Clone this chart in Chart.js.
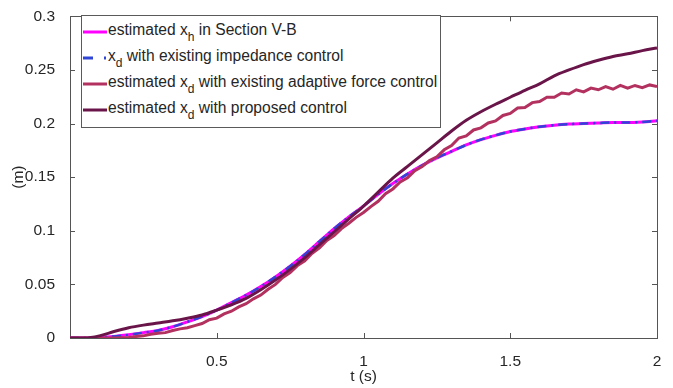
<!DOCTYPE html>
<html>
<head>
<meta charset="utf-8">
<script src="https://cdn.jsdelivr.net/npm/chart.js@4"></script>
<style>
  html, body { margin: 0; padding: 0; background: #fff; }
  #wrap { position: relative; width: 673px; height: 388px; }
  #legend {
    position: absolute; left: 81px; top: 15px; width: 360px; height: 113px;
    box-sizing: border-box; border: 1px solid #5a5a5a; background: #fff; padding-top: 1px;
    font-family: 'Liberation Sans', Arial, sans-serif; font-size: 15.6px; color: #262626;
  }
  .row { display: flex; align-items: center; height: 26px; white-space: nowrap; }
  .row svg { margin-left: 1px; margin-right: 1px; position: relative; top: 2px; }
  .row sub { font-size: 12px; vertical-align: -6px; line-height: 0; }
</style>
</head>
<body>
<div id="wrap">
  <canvas id="myChart" width="673" height="388"></canvas>
  <div id="legend"></div>
</div>
<script>
// time axis for the smooth curves
const tSmooth = [0, 0.05, 0.1, 0.15, 0.2, 0.25, 0.3, 0.35, 0.4, 0.45, 0.5, 0.55, 0.6, 0.65, 0.7, 0.75, 0.8, 0.85, 0.9, 0.95,
  1.0, 1.05, 1.1, 1.15, 1.2, 1.25, 1.3, 1.35, 1.4, 1.45, 1.5, 1.55, 1.6, 1.65, 1.7, 1.75, 1.8, 1.85, 1.9, 1.95, 2.0];

// estimated x_h (magenta)
const xhEstimated = [0, 0, 0.0005, 0.0015, 0.003, 0.005, 0.007, 0.0105, 0.015, 0.02, 0.026, 0.033, 0.040, 0.048, 0.057, 0.067, 0.078, 0.090, 0.102, 0.113,
  0.123, 0.134, 0.144, 0.153, 0.161, 0.168, 0.174, 0.180, 0.185, 0.189, 0.1925, 0.195, 0.197, 0.1985, 0.1995, 0.2, 0.2005, 0.201, 0.201, 0.2015, 0.2025];

// x_d, impedance control (blue dash-dot, sits on the magenta one)
const xdImpedance = [0, 0, 0.0005, 0.0015, 0.003, 0.005, 0.007, 0.0105, 0.015, 0.02, 0.026, 0.033, 0.040, 0.048, 0.057, 0.067, 0.078, 0.090, 0.102, 0.113,
  0.123, 0.134, 0.144, 0.153, 0.161, 0.168, 0.174, 0.180, 0.185, 0.189, 0.1925, 0.195, 0.197, 0.1985, 0.1995, 0.2, 0.2005, 0.201, 0.201, 0.2015, 0.2025];

// x_d, proposed control (dark purple)
const xdProposed = [0, 0, 0.002, 0.006, 0.0095, 0.012, 0.014, 0.016, 0.0185, 0.0215, 0.026, 0.031, 0.037, 0.045, 0.054, 0.064, 0.075, 0.087, 0.099, 0.111,
  0.123, 0.136, 0.149, 0.160, 0.171, 0.182, 0.193, 0.203, 0.211, 0.218, 0.2245, 0.231, 0.237, 0.2445, 0.25, 0.255, 0.259, 0.2625, 0.265, 0.268, 0.2705];

// adaptive force control is noisy, so it gets a finer time axis
const tAdaptive = [0, 0.05, 0.1, 0.15, 0.2, 0.225, 0.25, 0.275, 0.3, 0.325, 0.35, 0.375, 0.4, 0.425, 0.45, 0.475, 0.5, 0.525, 0.55, 0.575, 0.6, 0.625,
  0.65, 0.675, 0.7, 0.725, 0.75, 0.775, 0.8, 0.825, 0.85, 0.875, 0.9, 0.925, 0.95, 0.975, 1.0, 1.025, 1.05, 1.075, 1.1, 1.125, 1.15, 1.175,
  1.2, 1.225, 1.25, 1.275, 1.3, 1.325, 1.35, 1.375, 1.4, 1.425, 1.45, 1.475, 1.5, 1.525, 1.55, 1.575, 1.6, 1.625, 1.65, 1.675, 1.7, 1.725,
  1.75, 1.775, 1.8, 1.825, 1.85, 1.875, 1.9, 1.925, 1.95, 1.975, 2.0];
const xdAdaptive = [0, 0, 0, 0, 0.0005, 0.0015, 0.002, 0.0035, 0.0045, 0.005, 0.007, 0.0085, 0.0095, 0.0115, 0.0135, 0.017, 0.0185, 0.0225, 0.025, 0.029, 0.032, 0.0365,
  0.040, 0.0455, 0.050, 0.0565, 0.061, 0.0675, 0.072, 0.079, 0.084, 0.091, 0.0955, 0.102, 0.107, 0.1125, 0.117, 0.1225, 0.1275, 0.1345, 0.139, 0.1455, 0.1495, 0.156,
  0.16, 0.1655, 0.169, 0.1755, 0.1795, 0.1865, 0.1885, 0.194, 0.196, 0.2005, 0.2025, 0.2075, 0.2095, 0.2145, 0.215, 0.2195, 0.2205, 0.2245, 0.2245, 0.2285, 0.2275, 0.2315,
  0.2295, 0.233, 0.2315, 0.2345, 0.232, 0.2355, 0.233, 0.2355, 0.2335, 0.236, 0.2345];

const xTicks = [0.5, 1, 1.5, 2];
const xTickLabels = ['0.5', '1', '1.5', '2'];
const yTicks = [0, 0.05, 0.1, 0.15, 0.2, 0.25, 0.3];
const yTickLabels = ['0', '0.05', '0.1', '0.15', '0.2', '0.25', '0.3'];

// legend text split as [before, subscript, after]
const seriesNames = [
  ['estimated x', 'h', ' in Section V-B'],
  ['x', 'd', ' with existing impedance control'],
  ['estimated x', 'd', ' with existing adaptive force control'],
  ['estimated x', 'd', ' with proposed control']
];
const seriesColors = ['#ff00ff', '#2f45d6', '#b3315f', '#6a1549'];

const FONT = "'Liberation Sans', Arial, sans-serif";
const TXT = '#262626';
const AXIS = '#555555';

function pts(ts, vs) {
  return ts.map((t, i) => ({ x: t, y: vs[i] }));
}

// MATLAB style box with inward ticks on all four sides
const boxPlugin = {
  id: 'box',
  beforeDatasetsDraw(chart) {
    const { ctx, chartArea: a, scales } = chart;
    ctx.save();
    ctx.strokeStyle = AXIS;
    ctx.lineWidth = 1;
    ctx.strokeRect(Math.round(a.left) + 0.5, Math.round(a.top) + 0.5, Math.round(a.right - a.left), Math.round(a.bottom - a.top));
    ctx.beginPath();
    xTicks.forEach(v => {
      const px = Math.round(scales.x.getPixelForValue(v)) + 0.5;
      ctx.moveTo(px, a.bottom); ctx.lineTo(px, a.bottom - 5);
      ctx.moveTo(px, a.top); ctx.lineTo(px, a.top + 5);
    });
    yTicks.forEach(v => {
      const py = Math.round(scales.y.getPixelForValue(v)) + 0.5;
      ctx.moveTo(a.left, py); ctx.lineTo(a.left + 5, py);
      ctx.moveTo(a.right, py); ctx.lineTo(a.right - 5, py);
    });
    ctx.stroke();
    ctx.restore();
  }
};

const ctxEl = document.getElementById('myChart');
const chart = new Chart(ctxEl, {
  type: 'line',
  data: {
    datasets: [
      { label: seriesNames[0].join(''), data: pts(tSmooth, xhEstimated), borderColor: seriesColors[0], borderWidth: 3, order: 4, cubicInterpolationMode: 'monotone' },
      { label: seriesNames[1].join(''), data: pts(tSmooth, xdImpedance), borderColor: seriesColors[1], borderWidth: 2.5, borderDash: [9, 5, 2, 5], order: 3, cubicInterpolationMode: 'monotone' },
      { label: seriesNames[2].join(''), data: pts(tAdaptive, xdAdaptive), borderColor: seriesColors[2], borderWidth: 3, order: 2, tension: 0 },
      { label: seriesNames[3].join(''), data: pts(tSmooth, xdProposed), borderColor: seriesColors[3], borderWidth: 3, order: 1, cubicInterpolationMode: 'monotone' }
    ]
  },
  options: {
    responsive: false,
    animation: false,
    events: [],
    elements: { point: { radius: 0 } },
    layout: { padding: { left: 0, top: 12, right: 16, bottom: 0 } },
    plugins: { legend: { display: false }, tooltip: { enabled: false } },
    scales: {
      x: {
        type: 'linear', min: 0, max: 2,
        afterBuildTicks: s => { s.ticks = xTicks.map(v => ({ value: v })); },
        afterFit: s => { s.height = 50; },
        grid: { display: false },
        border: { display: false },
        ticks: { color: TXT, font: { family: FONT, size: 15.5 }, padding: 6, maxRotation: 0,
          callback: v => xTickLabels[xTicks.indexOf(v)] },
        title: { display: true, text: 't (s)', color: TXT, font: { family: FONT, size: 15.5 }, padding: { top: 0, bottom: 2 } }
      },
      y: {
        type: 'linear', min: 0, max: 0.3,
        afterBuildTicks: s => { s.ticks = yTicks.map(v => ({ value: v })); },
        afterFit: s => { s.width = 70; },
        grid: { display: false },
        border: { display: false },
        ticks: { color: TXT, font: { family: FONT, size: 15.5 }, padding: 7,
          callback: v => yTickLabels[yTicks.indexOf(v)] },
        title: { display: true, text: '(m)', color: TXT, font: { family: FONT, size: 15.5 }, padding: { top: 9, bottom: 0 } }
      }
    }
  },
  plugins: [boxPlugin]
});

// html legend, so the subscripts stay as text
const legend = document.getElementById('legend');
chart.data.datasets.forEach((ds, i) => {
  const row = document.createElement('div');
  row.className = 'row';
  const dash = ds.borderDash ? 'stroke-dasharray="10 11 2 50"' : '';
  const n = seriesNames[i];
  row.innerHTML =
    '<svg width="24" height="8"><line x1="0" y1="4" x2="24" y2="4" stroke="' + ds.borderColor + '" stroke-width="3" ' + dash + '/></svg>' +
    '<span>' + n[0] + '<sub>' + n[1] + '</sub>' + n[2] + '</span>';
  legend.appendChild(row);
});
</script>
</body>
</html>
